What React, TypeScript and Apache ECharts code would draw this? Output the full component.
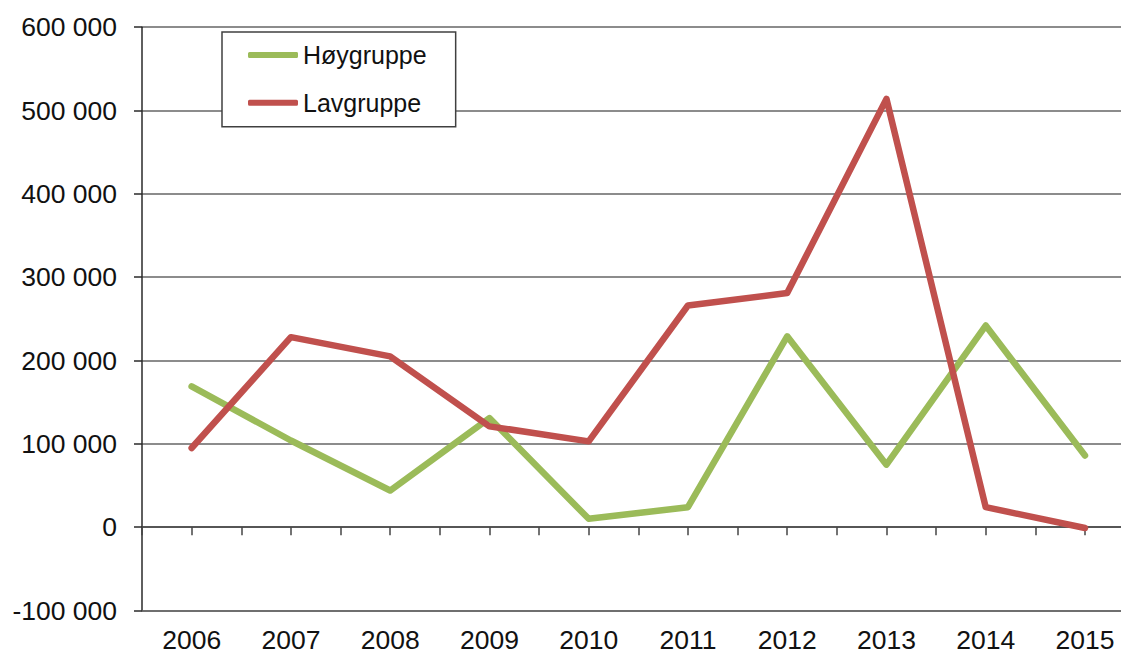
import React, { useEffect, useRef } from "react";
import * as echarts from "echarts";

const YEARS = ["2006", "2007", "2008", "2009", "2010", "2011", "2012", "2013", "2014", "2015"];
const HOY = [169000, 104000, 44000, 131000, 10000, 24000, 229000, 75000, 242000, 86000];
const LAV = [95000, 228000, 205000, 121000, 103000, 266000, 281000, 514000, 24000, -1000];
const SERIES_NAMES = ["Høygruppe", "Lavgruppe"];
const Y_MIN = -100000;
const Y_MAX = 600000;
const Y_STEP = 100000;

const FONT = "'Liberation Sans', Arial, sans-serif";

function fmt(v: number): string {
  const s = String(Math.abs(v)).replace(/\B(?=(\d{3})+(?!\d))/g, " ");
  return (v < 0 ? "-" : "") + s;
}

export default function App() {
  const ref = useRef<HTMLDivElement>(null);
  useEffect(() => {
    if (!ref.current) return;
    const chart = echarts.init(ref.current, undefined, { renderer: "svg" });
    const tickSlots = Array.from({ length: YEARS.length * 2 }, () => "");
    chart.setOption({
      animation: false,
      backgroundColor: "#ffffff",
      grid: {
        left: 142,
        top: 27.2,
        right: -13.6,
        bottom: 44.5,
        containLabel: false,
        outerBoundsMode: "none",
      },
      legend: {
        orient: "vertical",
        left: 222,
        top: 32,
        padding: [8, 29, 9, 26],
        itemGap: 17.7,
        itemWidth: 50,
        itemHeight: 6,
        icon: "roundRect",
        borderColor: "#404040",
        borderWidth: 1.5,
        backgroundColor: "#ffffff",
        textStyle: { fontSize: 25, fontFamily: FONT, color: "#111111", lineHeight: 30 },
        data: SERIES_NAMES,
      },
      xAxis: [
        {
          type: "category",
          data: YEARS,
          position: "bottom",
          boundaryGap: true,
          axisLine: { show: true, onZero: false, lineStyle: { color: "#666666", width: 1.5 } },
          axisTick: { show: false },
          axisLabel: { fontSize: 26.5, fontFamily: FONT, color: "#111111", margin: 16, interval: 0 },
          splitLine: { show: false },
        },
        {
          type: "category",
          data: tickSlots,
          position: "bottom",
          boundaryGap: true,
          axisLine: { show: true, onZero: true, lineStyle: { color: "#444444", width: 1.5 } },
          axisTick: { show: true, interval: 0, length: 8, lineStyle: { color: "#444444", width: 1.5 } },
          axisLabel: { show: false },
          splitLine: { show: false },
        },
      ],
      yAxis: {
        type: "value",
        min: Y_MIN,
        max: Y_MAX,
        interval: Y_STEP,
        axisLine: { show: true, lineStyle: { color: "#2a2a2a", width: 1.5 } },
        axisTick: { show: true, length: 8, lineStyle: { color: "#2a2a2a", width: 1.5 } },
        axisLabel: {
          fontSize: 26.5,
          fontFamily: FONT,
          color: "#111111",
          margin: 25,
          formatter: (v: number) => fmt(v),
        },
        splitLine: { show: true, lineStyle: { color: "#666666", width: 1.5 } },
      },
      series: [
        {
          name: SERIES_NAMES[0],
          type: "line",
          data: HOY,
          xAxisIndex: 0,
          symbol: "none",
          color: "#9bbb59",
          lineStyle: { width: 6.5, color: "#9bbb59", cap: "round", join: "round" },
        },
        {
          name: SERIES_NAMES[1],
          type: "line",
          data: LAV,
          xAxisIndex: 0,
          symbol: "none",
          color: "#c0504d",
          lineStyle: { width: 6.5, color: "#c0504d", cap: "round", join: "round" },
        },
      ],
    });
    return () => chart.dispose();
  }, []);
  return (
    <div
      ref={ref}
      style={{ position: "absolute", left: 0, top: 0, width: 1121, height: 655, background: "#fff" }}
    />
  );
}
